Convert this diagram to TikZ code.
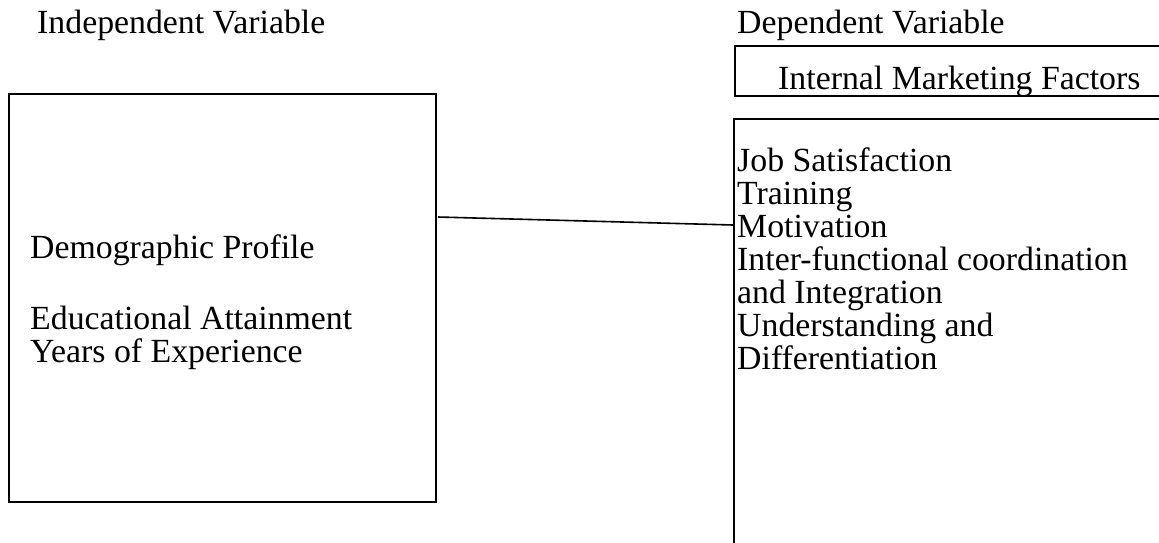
\documentclass[tikz,border=0pt]{standalone}
\usepackage{fontspec}
\setmainfont{Liberation Serif}
\begin{document}
\begin{tikzpicture}[yscale=-1
,pstyle0/.style={draw=black,line width=1.8pt,anchor=north west,inner sep=0pt}
,pstyle1/.style={color=black,line width=1.6pt}
,ptext/.style={anchor=base west,inner sep=0pt,color=black,font=\fontsize{33.8pt}{33pt}\selectfont}
]
\useasboundingbox (0pt,0pt) rectangle (1159pt,542pt);
\clip (0pt,0pt) rectangle (1159pt,542pt);
\node[ptext] (indeplabel) at (37pt,33pt) {Independent Variable};
\node[ptext] (deplabel) at (737pt,33pt) {Dependent Variable};
\node[pstyle0,minimum width=427pt,minimum height=408pt] (demobox) at (8pt,93pt) {};
\node[pstyle0,minimum width=460pt,minimum height=50pt] (imfbox) at (734pt,45pt) {};
\node[pstyle0,minimum width=460pt,minimum height=470pt] (factorbox) at (733pt,118pt) {};
\begin{scope}
\clip (734pt,45pt) rectangle (1194pt,94pt);
\node[ptext] (imftitle) at (778pt,89pt) {Internal Marketing Factors};
\end{scope}
\node[ptext] (demoA) at (30pt,258pt) {Demographic Profile};
\node[ptext] (demoB) at (30pt,329pt) {Educational Attainment};
\node[ptext] (demoC) at (30pt,362pt) {Years of Experience};
\node[ptext] (factorA) at (737pt,171pt) {Job Satisfaction};
\node[ptext] (factorB) at (737pt,204pt) {Training};
\node[ptext] (factorC) at (737pt,237pt) {Motivation};
\node[ptext] (factorD) at (737pt,270pt) {Inter-functional coordination};
\node[ptext] (factorE) at (737pt,303pt) {and Integration};
\node[ptext] (factorF) at (737pt,336pt) {Understanding and};
\node[ptext] (factorG) at (737pt,369pt) {Differentiation};
\coordinate (linkstart) at (438pt,217pt);
\coordinate (linkend) at (factorbox.west |- 0pt,225pt);
\draw[pstyle1] (linkstart) -- (linkend);
\end{tikzpicture}
\end{document}
